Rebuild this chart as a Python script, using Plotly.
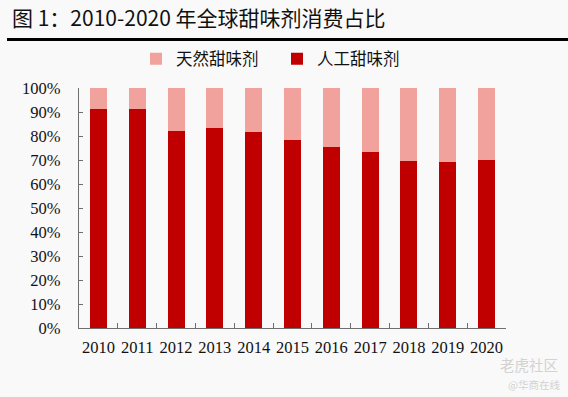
import plotly.graph_objects as go

years = ["2010", "2011", "2012", "2013", "2014", "2015", "2016", "2017", "2018", "2019", "2020"]
artificial = [91.1, 91.2, 82.2, 83.2, 81.5, 78.2, 75.5, 73.4, 69.7, 69.3, 70.0]
natural = [8.9, 8.8, 17.8, 16.8, 18.5, 21.8, 24.5, 26.6, 30.3, 30.7, 30.0]
y_ticks = [0, 10, 20, 30, 40, 50, 60, 70, 80, 90, 100]
y_tick_labels = [f"{v}%" for v in y_ticks]

title_text = "图 1：2010-2020 年全球甜味剂消费占比"
name_natural = "天然甜味剂"
name_artificial = "人工甜味剂"

CJK = "Noto Sans CJK SC"
SERIF = "Liberation Serif"
BG = "#f9f9f9"
AXIS = "#6e6e6e"

fig = go.Figure()
fig.add_trace(go.Bar(x=years, y=artificial, name=name_artificial,
                     marker=dict(color="#C00000", line=dict(width=0))))
fig.add_trace(go.Bar(x=years, y=natural, name=name_natural,
                     marker=dict(color="#F2A29C", line=dict(width=0))))

L, R, T, B = 79, 62, 88, 69
W, H = 568, 397
pw, ph = W - L - R, H - T - B

def px(x):
    return (x - L) / pw

def py(y):
    return (H - B - y) / ph

fig.update_layout(
    width=W, height=H,
    barmode="stack", bargap=0.56,
    paper_bgcolor=BG, plot_bgcolor=BG,
    margin=dict(l=L, r=R, t=T, b=B, pad=0),
    title=dict(text=title_text, xref="container", yref="container",
               x=12 / W, xanchor="left", y=1 - 19 / H, yanchor="middle",
               font=dict(family=CJK, size=21, color="#111111")),
    legend=dict(orientation="h", traceorder="reversed",
                x=px(136), xanchor="left", y=py(59), yanchor="middle",
                font=dict(family=CJK, size=16.5, color="#111111"),
                bgcolor="rgba(0,0,0,0)", entrywidth=96, entrywidthmode="pixels",
                itemclick=False),
    xaxis=dict(type="category", showline=True, linecolor=AXIS, linewidth=1.3,
               ticks="inside", ticklen=5, tickcolor=AXIS, tickwidth=1.3,
               tickson="boundaries", showgrid=False, zeroline=False,
               tickangle=0,
               tickfont=dict(family=SERIF, size=16.5, color="#111111"),
               ticklabelstandoff=4),
    yaxis=dict(range=[0, 100], tickvals=y_ticks, ticktext=y_tick_labels,
               showline=True, linecolor=AXIS, linewidth=1.3,
               ticks="inside", ticklen=4, tickcolor=AXIS, tickwidth=1.3,
               showgrid=False, zeroline=False,
               tickfont=dict(family=SERIF, size=16.5, color="#111111"),
               ticklabelstandoff=14),
    shapes=[dict(type="line", xref="paper", yref="paper",
                 x0=px(7), x1=px(568), y0=py(39.5), y1=py(39.5),
                 line=dict(color="#000000", width=3))],
    annotations=[
        dict(text="老虎社区", xref="paper", yref="paper", x=px(529), y=py(364),
             xanchor="center", yanchor="middle", showarrow=False,
             font=dict(family=CJK, size=14.5, color="#d2d2d2")),
        dict(text="@华商在线", xref="paper", yref="paper", x=px(534), y=py(384),
             xanchor="center", yanchor="middle", showarrow=False,
             font=dict(family=CJK, size=10.5, color="#d2d2d2")),
    ],
)

fig.write_html("out.html", config={"displayModeBar": False},
               post_script="document.body.style.margin='0';document.body.style.background='#f9f9f9';")
